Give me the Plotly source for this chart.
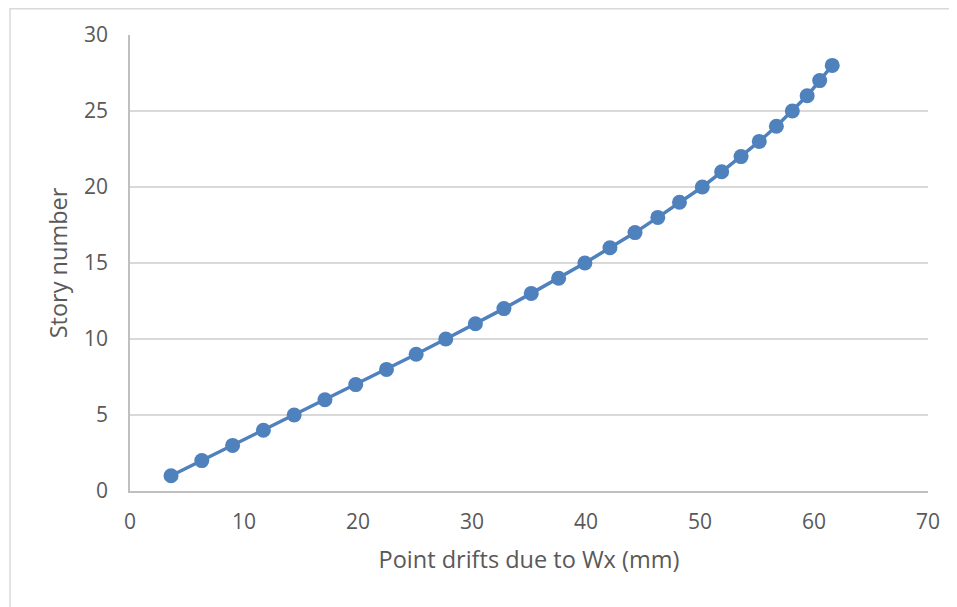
import plotly.graph_objects as go

stories = list(range(1, 29))
drifts = [3.6, 6.3, 9.0, 11.7, 14.4, 17.1, 19.8, 22.5, 25.1, 27.7, 30.3, 32.8,
          35.2, 37.6, 39.9, 42.1, 44.3, 46.3, 48.2, 50.2, 51.9, 53.6, 55.2,
          56.7, 58.1, 59.4, 60.5, 61.6]

x_title = "Point drifts due to Wx (mm)"
y_title = "Story number"

W, H = 957, 607
OFF = 8  # page body margin
L, R, T, B = 130 - OFF, 29 + OFF, 35 - OFF, 116 + OFF

fig = go.Figure()
fig.add_trace(go.Scatter(
    x=drifts, y=stories, mode="lines+markers",
    line=dict(color="#4f81bd", width=3.5),
    marker=dict(color="#4f81bd", size=15),
    showlegend=False, cliponaxis=False,
))

font = dict(family="Open Sans, Lato, sans-serif", color="#595959")
pw, ph = W - L - R, H - T - B

fig.update_layout(
    width=W, height=H,
    margin=dict(l=L, r=R, t=T, b=B),
    paper_bgcolor="white", plot_bgcolor="white",
    font=font,
    xaxis=dict(range=[0, 70], dtick=10, showgrid=False, zeroline=False,
               showline=True, linecolor="#bfbfbf", linewidth=1.5,
               tickfont=dict(size=21), ticks="", ticklabelstandoff=11,
               title=dict(text=x_title, font=dict(size=23.5), standoff=18)),
    yaxis=dict(range=[0, 30], dtick=5, showgrid=True, gridcolor="#d9d9d9",
               gridwidth=1.5, zeroline=False,
               showline=True, linecolor="#bfbfbf", linewidth=1.5,
               tickfont=dict(size=21), ticks="", ticklabelstandoff=16,
               title=dict(text=y_title, font=dict(size=23.5), standoff=10)),
    shapes=[dict(type="rect", xref="paper", yref="paper",
                 x0=(10 - OFF - L) / pw, x1=(W + 20 - L) / pw,
                 y0=-(H + 20 - T - ph) / ph, y1=(H - 0.75 - B) / ph,
                 line=dict(color="#d9d9d9", width=1.5), layer="below")],
)

fig.write_html("out.html")
